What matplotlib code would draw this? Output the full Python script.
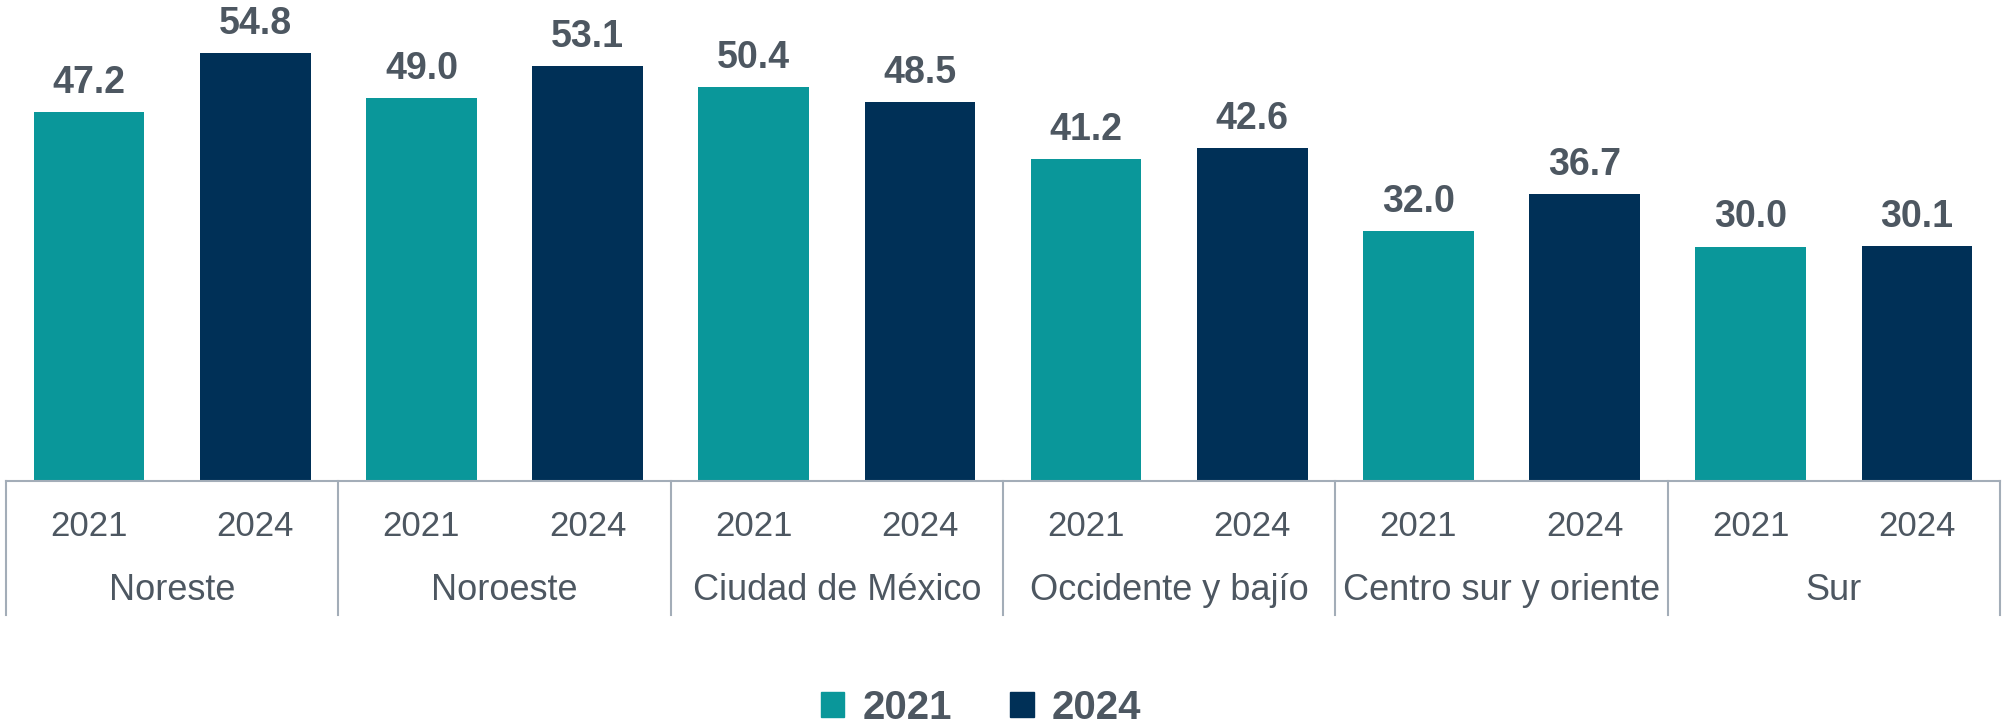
import matplotlib
matplotlib.use("Agg")
import matplotlib.pyplot as plt
from matplotlib.patches import Patch
from matplotlib.lines import Line2D

regions = ["Noreste", "Noroeste", "Ciudad de México", "Occidente y bajío",
           "Centro sur y oriente", "Sur"]
years = ["2021", "2024"]
values_2021 = [47.2, 49.0, 50.4, 41.2, 32.0, 30.0]
values_2024 = [54.8, 53.1, 48.5, 42.6, 36.7, 30.1]

c21 = "#0A979A"
c24 = "#003057"
txt = "#4D5761"
grid = "#A3ADB8"

plt.rcParams['font.family'] = ['Liberation Sans', 'DejaVu Sans']

fig = plt.figure(figsize=(20.02, 7.28), dpi=100)
ax = fig.add_axes([0.003, 1 - 481 / 728, 0.996, 481 / 728])

n = len(regions)
x21 = [i + 0.25 for i in range(n)]
x24 = [i + 0.75 for i in range(n)]
w = 1 / 3
b1 = ax.bar(x21, values_2021, width=w, color=c21, label=years[0])
b2 = ax.bar(x24, values_2024, width=w, color=c24, label=years[1])

for bars, vals in ((b1, values_2021), (b2, values_2024)):
    for rect, v in zip(bars, vals):
        ax.annotate(f"{v:.1f}", (rect.get_x() + rect.get_width() / 2, v),
                    xytext=(0, 14), textcoords="offset points",
                    ha="center", va="baseline", fontsize=27,
                    fontweight="bold", color=txt)

ax.set_xlim(0, n)
ax.set_ylim(0, 61.6)
ax.set_yticks([])
ax.set_xticks([])
for s in ("top", "right", "left"):
    ax.spines[s].set_visible(False)
ax.spines["bottom"].set_color(grid)
ax.spines["bottom"].set_linewidth(1.5)

tr = ax.get_xaxis_transform()
ax_h = 481
for i in range(n + 1):
    ax.add_line(Line2D([i, i], [0, -134 / ax_h], transform=tr, color=grid,
                       lw=1.5, clip_on=False))
for i in range(n):
    for xx, yr in ((i + 0.25, years[0]), (i + 0.75, years[1])):
        ax.text(xx, -45 / ax_h, yr, transform=tr, ha="center", va="center",
                fontsize=25, color=txt)
    ax.text(i + 0.5, -110 / ax_h, regions[i], transform=tr, ha="center",
            va="center", fontsize=26, color=txt)

handles = [Patch(color=c21, label=years[0]), Patch(color=c24, label=years[1])]
leg = fig.legend(handles=handles, loc="center", bbox_to_anchor=(0.49, 1 - 708 / 728),
                 ncol=2, frameon=False, handlelength=0.58, handleheight=0.58,
                 handletextpad=0.45, columnspacing=1.45,
                 prop={"size": 29, "weight": "bold"})
for t in leg.get_texts():
    t.set_color(txt)

fig.savefig("out.png", dpi=100)
